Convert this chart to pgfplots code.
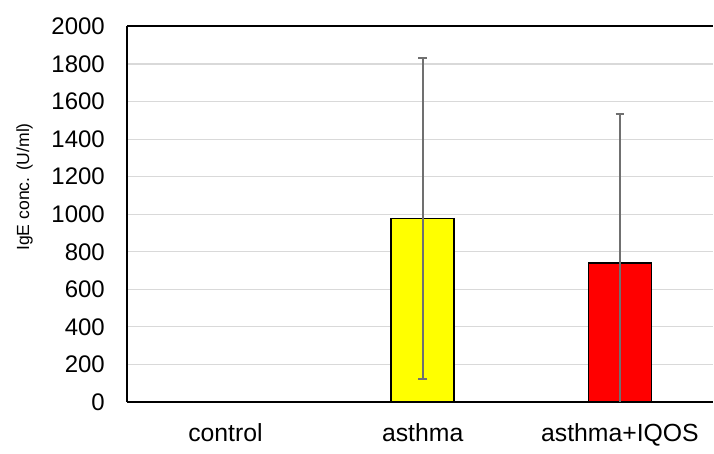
\documentclass[border=0pt]{standalone}
\usepackage{pgfplots}
\usepackage{pgfplotstable}
\pgfplotsset{compat=1.18}
\usepackage{fontspec}
\setmainfont{Liberation Sans}

\definecolor{gridgray}{RGB}{217,217,217}
\definecolor{errgray}{RGB}{112,112,112}
\definecolor{barYellow}{RGB}{255,255,0}
\definecolor{barRed}{RGB}{255,0,0}

% mean and standard deviation of IgE per group
\pgfplotstableread{
x mean sd
0 0 0
}\controlgrp
\pgfplotstableread{
x mean sd
1 977 853
}\asthmagrp
\pgfplotstableread{
x mean sd
2 739 793
}\iqosgrp

\begin{document}
\begin{tikzpicture}
\begin{axis}[
  scale only axis, width=293.5pt, height=188pt,
  xmin=-0.5, xmax=2.472, ymin=0, ymax=2000,
  ytick={0,200,...,2000},
  xtick={0,1,2}, xticklabels={control,asthma,asthma+IQOS},
  axis x line=box, axis y line=left,
  axis line style={-, line width=1pt, black},
  major tick length=0pt,
  ymajorgrids, grid style={gridgray, line width=0.6pt},
  /pgf/number format/assume math mode=true,
  /pgf/number format/set thousands separator={},
  yticklabel style={font=\fontsize{12}{14}\selectfont, anchor=east, xshift=-7.5pt},
  xticklabel style={font=\fontsize{12.4}{14}\selectfont, anchor=base, yshift=-20pt},
  ylabel={IgE conc. (U/ml)},
  every axis y label/.style={at={(axis description cs:-0.1743,0.5726)}, rotate=90,
    anchor=center, font=\fontsize{8.8}{10}\selectfont},
  ybar, bar width=31.5pt, bar shift=0pt,
]
\addplot[fill=white, draw=black, line width=0.8pt]
  table[x=x, y=mean] {\controlgrp};
\addplot[fill=barYellow, draw=black, line width=0.8pt,
  error bars/.cd, y dir=both, y explicit,
  error bar style={line width=0.9pt, errgray},
  error mark options={rotate=90, errgray, mark size=2.2pt, line width=0.9pt}]
  table[x=x, y=mean, y error=sd] {\asthmagrp};
\addplot[fill=barRed, draw=black, line width=0.8pt,
  error bars/.cd, y dir=both, y explicit,
  error bar style={line width=0.9pt, errgray},
  error mark options={rotate=90, errgray, mark size=2.2pt, line width=0.9pt}]
  table[x=x, y=mean, y error=sd] {\iqosgrp};
\end{axis}
\path ([shift={(-63.5pt,-21pt)}]current axis.south west)
  rectangle ([shift={(0pt,13.25pt)}]current axis.north east);
\end{tikzpicture}
\end{document}
